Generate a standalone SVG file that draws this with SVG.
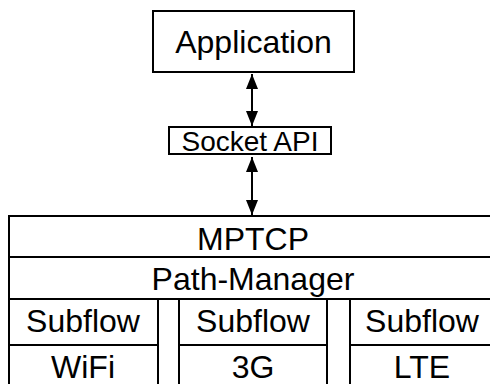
<svg xmlns="http://www.w3.org/2000/svg" width="490" height="384" viewBox="0 0 490 384">
<style>
.box{fill:#fff;stroke:#000;stroke-width:2}
.lbl{font-family:"Liberation Sans",Arial,Helvetica,sans-serif;font-size:32px;fill:#000;text-anchor:middle}
.sm{font-size:28px}
.conn{stroke:#000;stroke-width:2;fill:none}
</style>
<defs>
<marker id="ah" markerUnits="userSpaceOnUse" markerWidth="15" markerHeight="12" refX="15" refY="6" orient="auto-start-reverse" viewBox="0 0 15 12">
<path d="M0,0 L15,6 L0,12 z" fill="#000"/>
</marker>
</defs>
<rect width="490" height="384" fill="#fff"/>
<g id="application">
<rect class="box" x="153" y="11" width="201" height="61"/>
<text class="lbl" x="253.5" y="53">Application</text>
</g>
<g id="socket-api">
<rect class="box" x="169" y="127" width="162" height="27"/>
<text class="lbl sm" x="250" y="151">Socket API</text>
</g>
<g id="mptcp">
<rect class="box" x="9" y="216" width="490" height="41"/>
<text class="lbl" x="253" y="250">MPTCP</text>
</g>
<g id="path-manager">
<rect class="box" x="9" y="257" width="490" height="42"/>
<text class="lbl" x="253" y="290">Path-Manager</text>
</g>
<g id="subflow-1">
<rect class="box" x="9" y="299" width="149" height="46"/>
<text class="lbl" x="83" y="332">Subflow</text>
</g>
<g id="wifi">
<rect class="box" x="9" y="345" width="149" height="50"/>
<text class="lbl" x="83" y="378">WiFi</text>
</g>
<g id="subflow-2">
<rect class="box" x="179" y="299" width="148" height="46"/>
<text class="lbl" x="253" y="332">Subflow</text>
</g>
<g id="3g">
<rect class="box" x="179" y="345" width="148" height="50"/>
<text class="lbl" x="253" y="378">3G</text>
</g>
<g id="subflow-3">
<rect class="box" x="350" y="299" width="149" height="46"/>
<text class="lbl" x="422" y="332">Subflow</text>
</g>
<g id="lte">
<rect class="box" x="350" y="345" width="149" height="50"/>
<text class="lbl" x="422" y="378">LTE</text>
</g>
<line class="conn" x1="158" y1="299" x2="179" y2="299"/>
<line class="conn" x1="327" y1="299" x2="350" y2="299"/>
<g id="connectors">
<line class="conn" x1="252" y1="74" x2="252" y2="126" marker-start="url(#ah)" marker-end="url(#ah)"/>
<line class="conn" x1="252" y1="157" x2="252" y2="215" marker-start="url(#ah)" marker-end="url(#ah)"/>
</g>
</svg>
